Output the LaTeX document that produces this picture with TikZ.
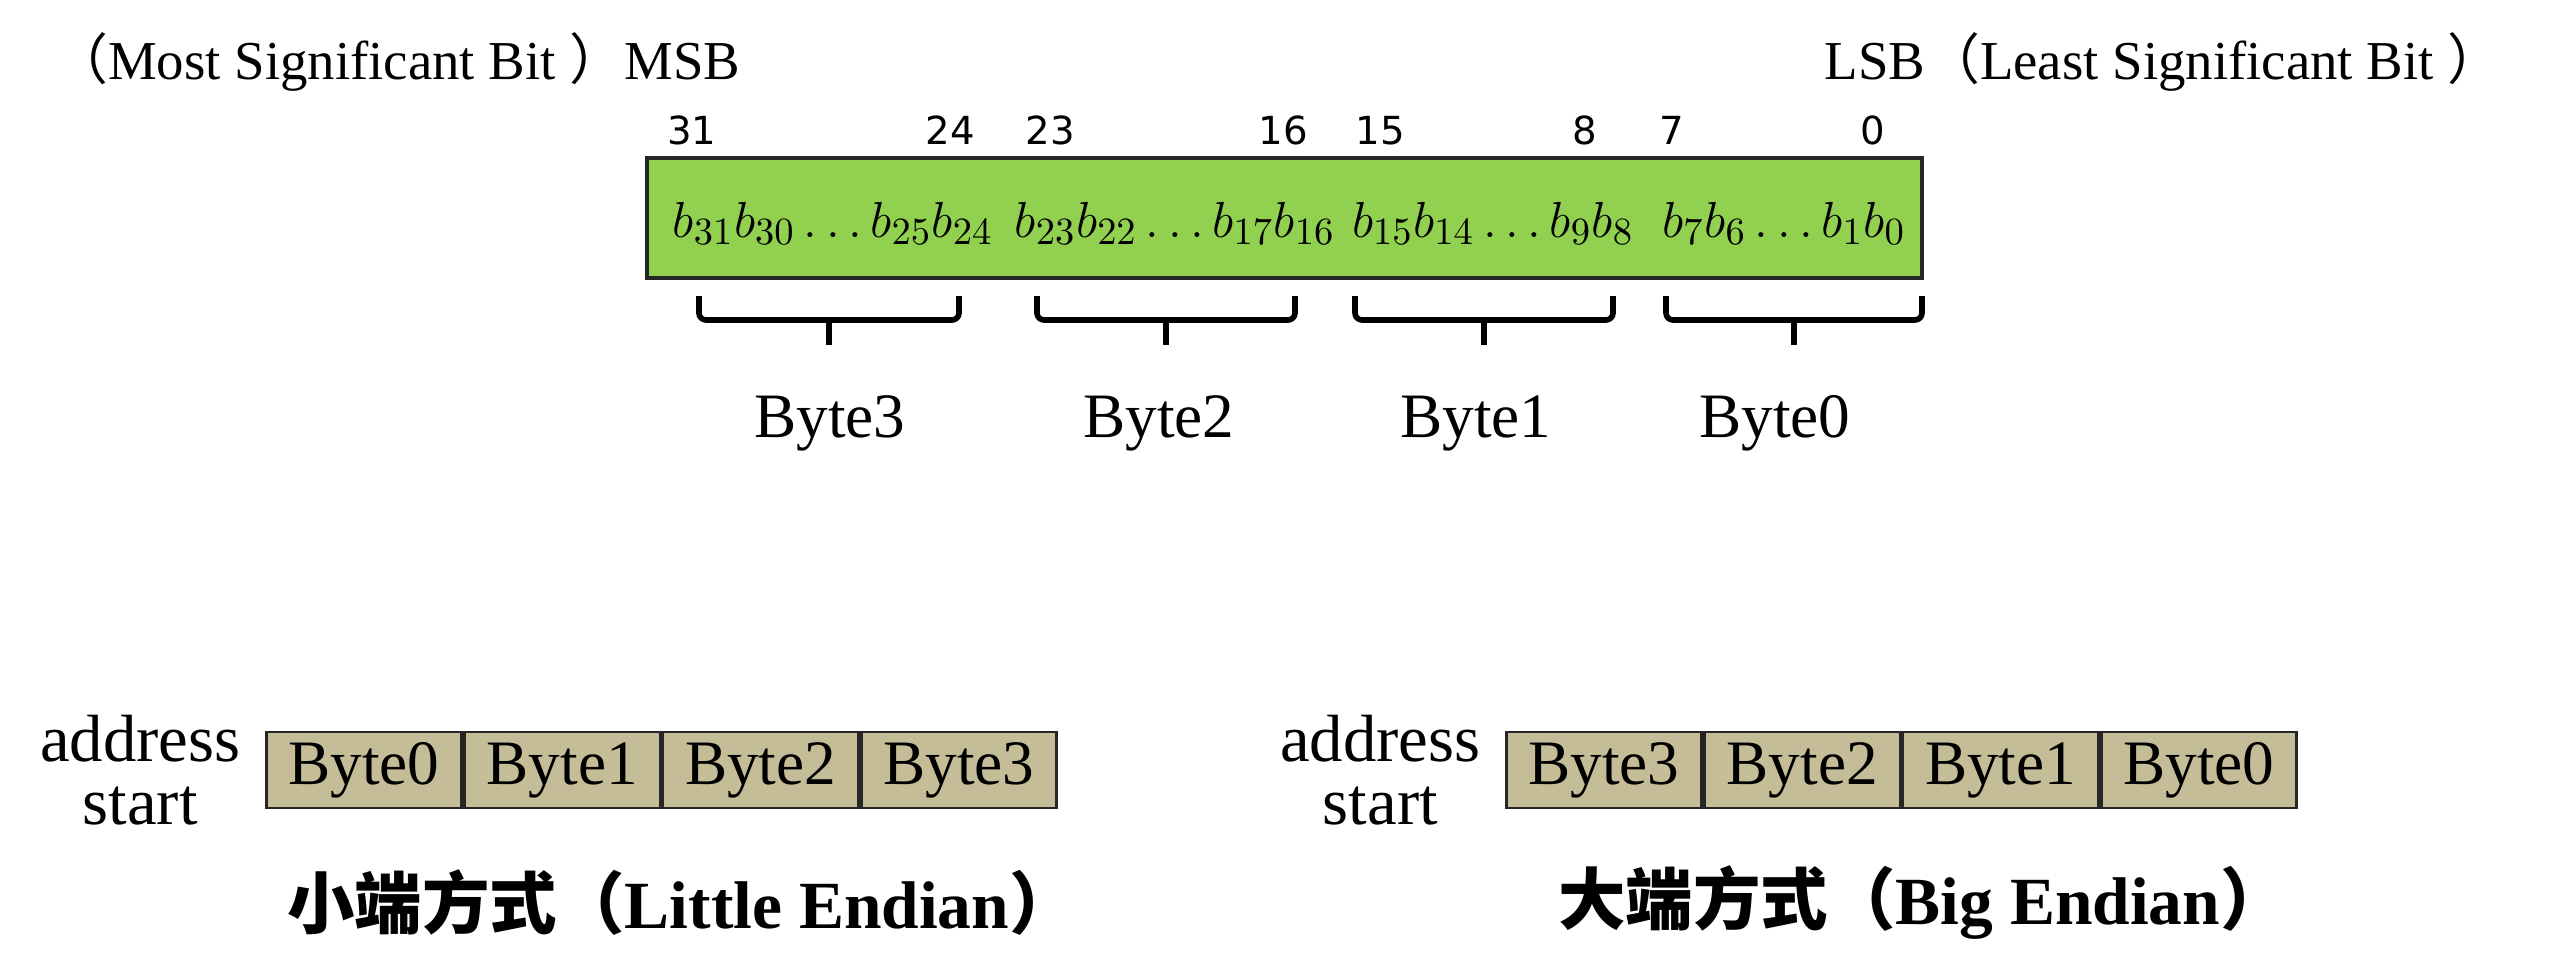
\documentclass[tikz,border=0pt]{standalone}
\usepackage{fontspec}
\setmainfont{Liberation Serif}
\newfontfamily\cjk{Noto Sans CJK SC}
\newfontfamily\numfont{DejaVu Sans}
\usetikzlibrary{positioning}
\definecolor{verdeReg}{RGB}{146,208,80}
\definecolor{tanByte}{RGB}{196,189,151}

\begin{document}
\begin{tikzpicture}[
  node distance=0cm and 0cm,
  title/.style={font=\fontsize{15.6}{18}\selectfont, inner sep=0pt},
  bitnum/.style={font=\numfont\fontsize{11}{13}\selectfont, anchor=base},
  bitgrp/.style={font=\fontsize{15.5}{18}\selectfont, anchor=base},
  bytelab/.style={font=\fontsize{18}{20}\selectfont, anchor=base},
  bracket/.style={line width=1.6pt, rounded corners=2pt},
  cell/.style={rectangle, draw=black!85, line width=0.8pt, fill=tanByte,
               minimum width=1.955cm, minimum height=0.76cm, inner sep=0pt,
               font=\fontsize{18}{20}\selectfont},
  addr/.style={align=center, font=\fontsize{19}{18}\selectfont},
  caption/.style={font=\fontsize{19.2}{23}\selectfont\bfseries}
]
  \useasboundingbox (0,0) rectangle (25.6,-9.69);

  % Titulos MSB / LSB
  \node[title, anchor=base east] (msb) at (7.41,-0.79) {{\cjk （}Most Significant Bit {\cjk ）}MSB};
  \node[title, anchor=base west] (lsb) at (18.24,-0.79) {LSB{\cjk （}Least Significant Bit {\cjk ）}};

  % Registro de 32 bits
  \node[draw=black!85, line width=1pt, fill=verdeReg, minimum width=12.75cm,
        minimum height=1.2cm, inner sep=0pt] (reg) at (12.845,-2.18) {};

  \node[bitnum] (n31) at (6.92,-1.44) {31};
  \node[bitnum] (n24) at (9.50,-1.44) {24};
  \node[bitnum] (n23) at (10.50,-1.44) {23};
  \node[bitnum] (n16) at (12.83,-1.44) {16};
  \node[bitnum] (n15) at (13.80,-1.44) {15};
  \node[bitnum] (n8) at (15.85,-1.44) {8};
  \node[bitnum] (n7) at (16.72,-1.44) {7};
  \node[bitnum] (n0) at (18.73,-1.44) {0};

  \node[bitgrp] (g3) at (8.33,-2.37) {$b_{31}b_{30}\dots b_{25}b_{24}$};
  \node[bitgrp] (g2) at (11.75,-2.37) {$b_{23}b_{22}\dots b_{17}b_{16}$};
  \node[bitgrp] (g1) at (14.93,-2.37) {$b_{15}b_{14}\dots b_{9}b_{8}$};
  \node[bitgrp] (g0) at (17.84,-2.37) {$b_{7}b_{6}\dots b_{1}b_{0}$};

  % Llaves y bytes
  \foreach \xa/\xb/\xl/\nm in {6.99/9.59/8.30/3, 10.37/12.95/11.59/2, 13.55/16.13/14.76/1, 16.66/19.22/17.75/0} {
    \draw[bracket] (\xa,-2.96) -- (\xa,-3.20) -- (\xb,-3.20) -- (\xb,-2.96);
    \draw[bracket] ({(\xa+\xb)/2},-3.20) -- ({(\xa+\xb)/2},-3.45);
    \node[bytelab] (byte\nm) at (\xl,-4.37) {Byte\nm};
  }

  % Little endian
  \node[cell] (le0) at (3.64,-7.70) {Byte0};
  \node[cell, right=of le0] (le1) {Byte1};
  \node[cell, right=of le1] (le2) {Byte2};
  \node[cell, right=of le2] (le3) {Byte3};
  \node[addr, left=0.12cm of le0] (addrL) {address\\start};
  \node[caption] (capL) at (6.82,-9.03) {{\cjk 小端方式（}Little Endian{\cjk ）}};

  % Big endian
  \node[cell] (be3) at (16.04,-7.70) {Byte3};
  \node[cell, right=of be3] (be2) {Byte2};
  \node[cell, right=of be2] (be1) {Byte1};
  \node[cell, right=of be1] (be0) {Byte0};
  \node[addr, left=0.12cm of be3] (addrB) {address\\start};
  \node[caption] (capB) at (19.23,-9.03) {{\cjk 大端方式（}Big Endian{\cjk ）}};
\end{tikzpicture}
\end{document}
